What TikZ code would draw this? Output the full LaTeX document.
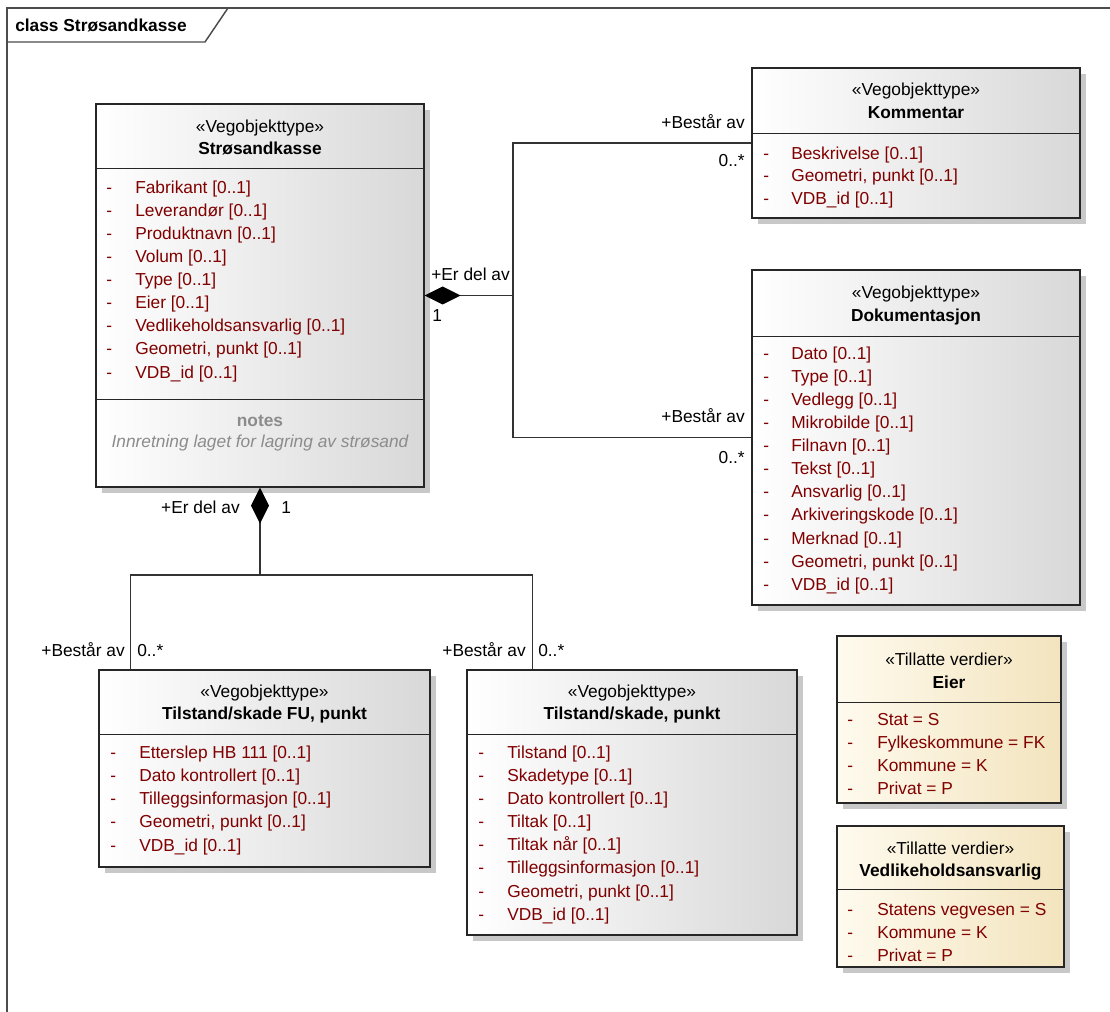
\documentclass[tikz,border=0pt]{standalone}
\usepackage{fontspec}
\setmainfont{Liberation Sans}
\usetikzlibrary{arrows.meta,positioning,calc,fit,shadows}
\definecolor{attrc}{RGB}{128,0,0}
\definecolor{notec}{RGB}{140,140,140}
\definecolor{clsr}{RGB}{216,216,216}
\definecolor{enuml}{RGB}{254,250,238}
\definecolor{enumr}{RGB}{243,228,190}
\definecolor{shad}{RGB}{200,200,200}
\tikzset{cls/.style={draw=black!85,line width=.8pt,inner sep=0pt,left color=white,right color=clsr,
   drop shadow={shadow xshift=4.5pt,shadow yshift=-4.5pt,fill=shad,opacity=1}},
 enm/.style={cls,left color=enuml,right color=enumr},
 div/.style={draw=black!85,line width=.75pt},
 txt/.style={inner sep=0pt,text height=9.3pt,text depth=0pt},
 nm/.style={txt,font=\fontsize{13}{16}\selectfont\bfseries},
 attr/.style={txt,anchor=west,text=attrc},
 lbl/.style={txt},
 wire/.style={draw=black!80,line width=.8pt},
 comp/.style={wire,{Diamond[length=27pt,width=13.5pt,fill=black,color=black]}-},
 every node/.style={font=\fontsize{13}{16}\selectfont}}
\begin{document}
\begin{tikzpicture}[x=0.75pt,y=-0.75pt]
\useasboundingbox[fill=white] (0,0) rectangle (1110,1012);
% frame with name tab
\draw[black!70,line width=1.1pt] (7,1012)--(7,8)--(1110,8);
\draw[black!70,line width=1.1pt] (7,42)--(205,42)--(228,8);
\node[nm,anchor=west] (title) at (15,25) {class Strøsandkasse};

% classes
\node[cls,fit={(96,104) (424,487)}] (sk) {};
\node[cls,fit={(752,68) (1080,218)}] (kom) {};
\node[cls,fit={(752,270) (1080,605)}] (dok) {};
\node[cls,fit={(99,670) (430,867)}] (fu) {};
\node[cls,fit={(467,670) (797,935)}] (ts) {};
\node[enm,fit={(837,636) (1061,803)}] (eier) {};
\node[enm,fit={(837,826) (1064,967)}] (vedl) {};

% compartments
\draw[div] (sk.west |- 0,169) -- (sk.east |- 0,169);
\draw[div] (sk.west |- 0,400) -- (sk.east |- 0,400);
\draw[div] (kom.west |- 0,134) -- (kom.east |- 0,134);
\draw[div] (dok.west |- 0,337) -- (dok.east |- 0,337);
\draw[div] (fu.west |- 0,734) -- (fu.east |- 0,734);
\draw[div] (ts.west |- 0,734) -- (ts.east |- 0,734);
\draw[div] (eier.west |- 0,702) -- (eier.east |- 0,702);
\draw[div] (vedl.west |- 0,889) -- (vedl.east |- 0,889);

% headers
\node[txt] (sk-st) at (sk.north |- 0,126) {«Vegobjekttype»};
\node[nm] (sk-nm) at (sk.north |- 0,148) {Strøsandkasse};
\node[txt] (kom-st) at (kom.north |- 0,89) {«Vegobjekttype»};
\node[nm] (kom-nm) at (kom.north |- 0,112) {Kommentar};
\node[txt] (dok-st) at (dok.north |- 0,292) {«Vegobjekttype»};
\node[nm] (dok-nm) at (dok.north |- 0,315) {Dokumentasjon};
\node[txt] (fu-st) at (fu.north |- 0,691) {«Vegobjekttype»};
\node[nm] (fu-nm) at (fu.north |- 0,713) {Tilstand/skade FU, punkt};
\node[txt] (ts-st) at (ts.north |- 0,691) {«Vegobjekttype»};
\node[nm] (ts-nm) at (ts.north |- 0,713) {Tilstand/skade, punkt};
\node[txt] (eier-st) at (eier.north |- 0,659) {«Tillatte verdier»};
\node[nm] (eier-nm) at (eier.north |- 0,682) {Eier};
\node[txt] (vedl-st) at (vedl.north |- 0,848) {«Tillatte verdier»};
\node[nm] (vedl-nm) at (vedl.north |- 0,870) {Vedlikeholdsansvarlig};

% attributes
\foreach \a [count=\i from 0] in {Fabrikant [0..1],Leverandør [0..1],Produktnavn [0..1],Volum [0..1],
  Type [0..1],Eier [0..1],Vedlikeholdsansvarlig [0..1],{Geometri, punkt [0..1]},VDB\_id [0..1]}{
  \node[attr] (sk-d\i) at (106,{187+23.1*\i}) {-};
  \node[attr] (sk-a\i) at (135,{187+23.1*\i}) {\a};}
\foreach \a [count=\i from 0] in {Beskrivelse [0..1],{Geometri, punkt [0..1]},VDB\_id [0..1]}{
  \node[attr] (kom-d\i) at (763,{153+22.5*\i}) {-};
  \node[attr] (kom-a\i) at (791,{153+22.5*\i}) {\a};}
\foreach \a [count=\i from 0] in {Dato [0..1],Type [0..1],Vedlegg [0..1],Mikrobilde [0..1],Filnavn [0..1],
  Tekst [0..1],Ansvarlig [0..1],Arkiveringskode [0..1],Merknad [0..1],{Geometri, punkt [0..1]},VDB\_id [0..1]}{
  \node[attr] (dok-d\i) at (763,{353+23.1*\i}) {-};
  \node[attr] (dok-a\i) at (791,{353+23.1*\i}) {\a};}
\foreach \a [count=\i from 0] in {Etterslep HB 111 [0..1],Dato kontrollert [0..1],Tilleggsinformasjon [0..1],
  {Geometri, punkt [0..1]},VDB\_id [0..1]}{
  \node[attr] (fu-d\i) at (110,{752+23.2*\i}) {-};
  \node[attr] (fu-a\i) at (139,{752+23.2*\i}) {\a};}
\foreach \a [count=\i from 0] in {Tilstand [0..1],Skadetype [0..1],Dato kontrollert [0..1],Tiltak [0..1],
  Tiltak når [0..1],Tilleggsinformasjon [0..1],{Geometri, punkt [0..1]},VDB\_id [0..1]}{
  \node[attr] (ts-d\i) at (478,{752+23.15*\i}) {-};
  \node[attr] (ts-a\i) at (507,{752+23.15*\i}) {\a};}
\foreach \a [count=\i from 0] in {Stat = S,Fylkeskommune = FK,Kommune = K,Privat = P}{
  \node[attr] (eier-d\i) at (847,{719+23.1*\i}) {-};
  \node[attr] (eier-a\i) at (877,{719+23.1*\i}) {\a};}
\foreach \a [count=\i from 0] in {Statens vegvesen = S,Kommune = K,Privat = P}{
  \node[attr] (vedl-d\i) at (847,{909+23*\i}) {-};
  \node[attr] (vedl-a\i) at (877,{909+23*\i}) {\a};}

% notes
\node[txt,text=notec,font=\fontsize{13}{16}\selectfont\bfseries] (sk-nt) at (sk.north |- 0,420) {notes};
\node[txt,text=notec,font=\fontsize{13}{16}\selectfont\itshape] (sk-nx) at (sk.north |- 0,441)
  {Innretning laget for lagring av strøsand};

% associations
\coordinate (r1) at (513,295.5);
\coordinate (j2) at (260,575);
\draw[comp] (sk.east) -- (r1);
\draw[wire] (r1) |- (kom.west);
\draw[wire] (r1) |- (dok.west);
\draw[comp] (sk.south) -- (j2);
\draw[wire] (j2) -| ($(fu.north west)+(32,0)$);
\draw[wire] (j2) -| ($(ts.north west)+(66,0)$);

% role names and multiplicities
\node[lbl,anchor=west] (l1) at (431,274) {+Er del av};
\node[lbl,anchor=west] (m1) at (432,315) {1};
\node[lbl,anchor=east] (l2) at (745,122) {+Består av};
\node[lbl,anchor=east] (m2) at (745,160) {0..*};
\node[lbl,anchor=east] (l3) at (745,416) {+Består av};
\node[lbl,anchor=east] (m3) at (745,457) {0..*};
\node[lbl,anchor=east] (l4) at (240,507) {+Er del av};
\node[lbl,anchor=west] (m4) at (281,507) {1};
\node[lbl,anchor=east] (l5) at (125,650) {+Består av};
\node[lbl,anchor=west] (m5) at (137,650) {0..*};
\node[lbl,anchor=east] (l6) at (526,650) {+Består av};
\node[lbl,anchor=west] (m6) at (538,650) {0..*};
\end{tikzpicture}
\end{document}
